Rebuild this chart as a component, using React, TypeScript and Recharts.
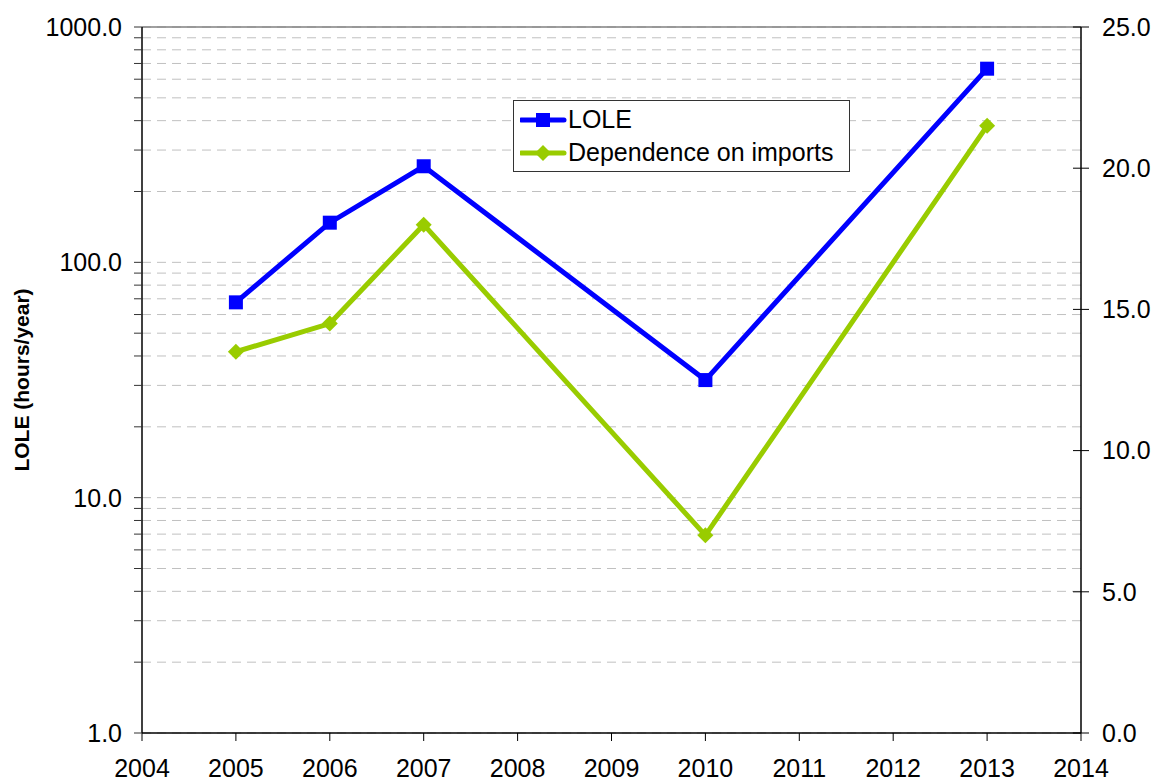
import { LineChart, Line, XAxis, YAxis, CartesianGrid, ReferenceLine, Legend } from "recharts"

const years = [2005, 2006, 2007, 2010, 2013]
const loleValues = [67.6, 147.4, 256, 31.6, 665]
const importValues = [13.5, 14.5, 18.0, 7.0, 21.5]

const xTicks = [2004, 2005, 2006, 2007, 2008, 2009, 2010, 2011, 2012, 2013, 2014]
const leftTicks = [1, 2, 3, 4, 5, 6, 7, 8, 9, 10, 20, 30, 40, 50, 60, 70, 80, 90, 100, 200, 300, 400, 500, 600, 700, 800, 900, 1000]
const rightTicks = [0, 5, 10, 15, 20, 25]

const data = years.map((year, i) => ({ year, lole: loleValues[i], imports: importValues[i] }))

const FONT = "'Liberation Sans', Arial, sans-serif"
const FS = 25
const BLUE = "#0000FF"
const GREEN = "#99CC00"

const isDecade = (v: number) => [1, 10, 100, 1000].includes(v)

// square marker for LOLE
const SquareDot = (props: any) => {
    const { cx, cy } = props
    if (cx == null || cy == null) return null
    return <rect x={cx - 7} y={cy - 7} width={14} height={14} fill={BLUE} />
}

// diamond marker for imports
const DiamondDot = (props: any) => {
    const { cx, cy } = props
    if (cx == null || cy == null) return null
    return <path d={`M${cx},${cy - 8} L${cx + 8},${cy} L${cx},${cy + 8} L${cx - 8},${cy} Z`} fill={GREEN} />
}

// right axis ticks cross the axis line
const RightTick = (props: any) => {
    const { x, y, payload } = props
    const axisX = x - 8 - 13
    return (
        <g>
            <line x1={axisX - 8} y1={y} x2={axisX} y2={y} stroke="#000" strokeWidth={1} />
            <text x={x} y={y} dy="0.35em" textAnchor="start" fontSize={FS} fontFamily={FONT} fill="#000">
                {Number(payload.value).toFixed(1)}
            </text>
        </g>
    )
}

const LegendBox = () => {
    const rows = [
        { label: "LOLE", color: BLUE, marker: "square" },
        { label: "Dependence on imports", color: GREEN, marker: "diamond" },
    ]
    return (
        <div
            style={{
                width: 337,
                height: 72,
                border: "1px solid #333",
                background: "#fff",
                boxSizing: "border-box",
                fontFamily: FONT,
                fontSize: FS,
                paddingTop: 2,
            }}
        >
            {rows.map((r) => (
                <div key={r.label} style={{ display: "flex", alignItems: "center", height: 33 }}>
                    <svg width={56} height={20} style={{ marginLeft: 6 }}>
                        <line x1={1} y1={10} x2={44} y2={10} stroke={r.color} strokeWidth={5} strokeLinecap="round" />
                        {r.marker === "square" ? (
                            <rect x={16} y={3} width={14} height={14} fill={r.color} />
                        ) : (
                            <path d="M23,2 L31,10 L23,18 L15,10 Z" fill={r.color} />
                        )}
                    </svg>
                    <span style={{ marginLeft: -8, color: "#000", whiteSpace: "nowrap" }}>{r.label}</span>
                </div>
            ))}
        </div>
    )
}

export default function App() {
    return (
        <div style={{ position: "absolute", left: 0, top: 0, width: 1157, height: 781, background: "#fff" }}>
            <LineChart width={1157} height={781} data={data} margin={{ top: 27, right: 0, bottom: 0, left: 0 }}>
                <CartesianGrid
                    yAxisId="left"
                    vertical={false}
                    stroke="#c0c0c0"
                    strokeDasharray="9 6"
                />
                <XAxis
                    dataKey="year"
                    type="number"
                    domain={[2004, 2014]}
                    ticks={xTicks}
                    interval={0}
                    height={48}
                    tickSize={8}
                    tickMargin={18}
                    axisLine={{ stroke: "#000", strokeWidth: 1.5 }}
                    tickLine={{ stroke: "#000" }}
                    tick={{ fontSize: FS, fontFamily: FONT, fill: "#000" }}
                />
                <YAxis
                    yAxisId="left"
                    scale="log"
                    domain={[1, 1000]}
                    ticks={leftTicks}
                    interval={0}
                    allowDataOverflow
                    width={142}
                    tickSize={8}
                    tickMargin={12}
                    tickFormatter={(v: number) => (isDecade(v) ? v.toFixed(1) : "")}
                    axisLine={{ stroke: "#000", strokeWidth: 1.5 }}
                    tickLine={{ stroke: "#333" }}
                    tick={{ fontSize: FS, fontFamily: FONT, fill: "#000" }}
                    label={{
                        value: "LOLE (hours/year)",
                        angle: -90,
                        position: "insideLeft",
                        offset: 22,
                        style: { fontSize: 21, fontWeight: "bold", fontFamily: FONT, fill: "#000", textAnchor: "middle" },
                    }}
                />
                <YAxis
                    yAxisId="right"
                    orientation="right"
                    domain={[0, 25]}
                    ticks={rightTicks}
                    interval={0}
                    width={76}
                    tickSize={8}
                    tickMargin={13}
                    axisLine={{ stroke: "#000", strokeWidth: 1.5 }}
                    tickLine={{ stroke: "#000" }}
                    tick={<RightTick />}
                />
                <ReferenceLine yAxisId="left" y={1000} stroke="#808080" strokeWidth={1.5} />
                <Legend
                    layout="horizontal"
                    align="center"
                    verticalAlign="middle"
                    content={() => <LegendBox />}
                    wrapperStyle={{ position: "absolute", left: 513, top: 100, width: 337, height: 72 }}
                />
                <Line
                    yAxisId="left"
                    dataKey="lole"
                    name="LOLE"
                    stroke={BLUE}
                    strokeWidth={5}
                    dot={<SquareDot />}
                    activeDot={false}
                    isAnimationActive={false}
                />
                <Line
                    yAxisId="right"
                    dataKey="imports"
                    name="Dependence on imports"
                    stroke={GREEN}
                    strokeWidth={5}
                    dot={<DiamondDot />}
                    activeDot={false}
                    isAnimationActive={false}
                />
            </LineChart>
        </div>
    )
}
